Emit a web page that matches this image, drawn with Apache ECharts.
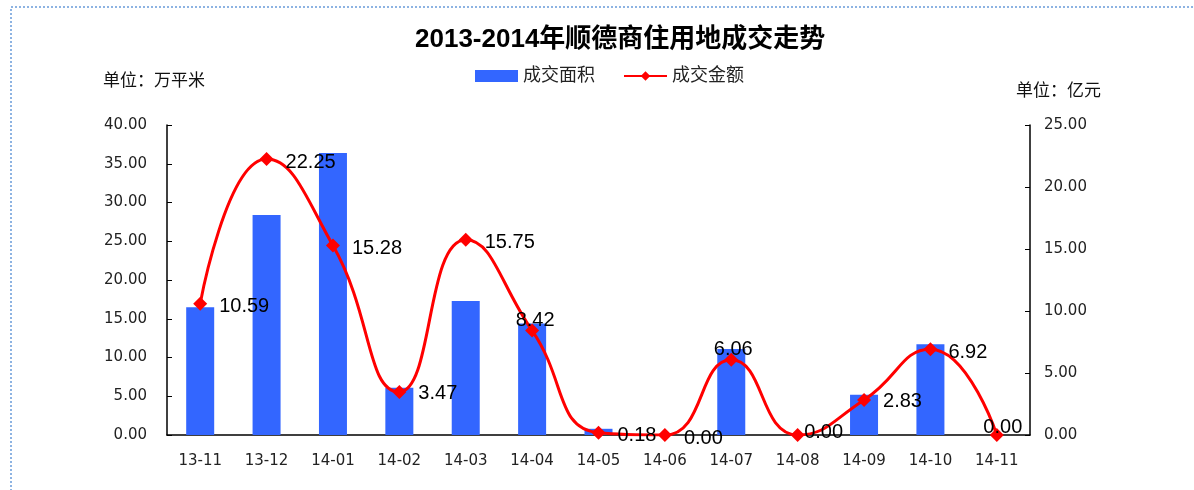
<!DOCTYPE html>
<html><head><meta charset="utf-8">
<script src="https://cdn.jsdelivr.net/npm/echarts@6/dist/echarts.min.js"></script>
<style>html,body{margin:0;padding:0;background:#fff;}#c{width:1194px;height:490px;}</style>
</head><body><div id="c"></div>
<script>
const categories = ['13-11','13-12','14-01','14-02','14-03','14-04','14-05','14-06','14-07','14-08','14-09','14-10','14-11'];
const areaValues = [16.5, 28.4, 36.4, 6.1, 17.3, 14.4, 0.8, 0, 11.1, 0, 5.2, 11.7, 0];
const amountValues = [10.59, 22.25, 15.28, 3.47, 15.75, 8.42, 0.18, 0.00, 6.06, 0.00, 2.83, 6.92, 0.00];
const leftTicks = ['0.00','5.00','10.00','15.00','20.00','25.00','30.00','35.00','40.00'];
const rightTicks = ['0.00','5.00','10.00','15.00','20.00','25.00'];
// label placement per point (style only)
const labelPlace = [
  {position: 'right', distance: 12, offset: [0, 3]},
  {position: 'right', distance: 12, offset: [0, 3]},
  {position: 'right', distance: 12, offset: [0, 3]},
  {position: 'right', distance: 12, offset: [0, 2]},
  {position: 'right', distance: 12, offset: [0, 3]},
  {position: 'inside', offset: [3, -10]},
  {position: 'right', distance: 12, offset: [0, 3]},
  {position: 'right', distance: 12, offset: [0, 3]},
  {position: 'inside', offset: [2, -10]},
  {position: 'inside', offset: [26, -3]},
  {position: 'right', distance: 12, offset: [0, 2]},
  {position: 'right', distance: 11, offset: [0, 3]},
  {position: 'inside', offset: [6, -8]}
];

const font = '"Liberation Sans", Arial, "Noto Sans CJK SC", sans-serif';
const tickFont = '"DejaVu Sans", sans-serif';
const chart = echarts.init(document.getElementById('c'));
chart.setOption({
  animation: false,
  title: {
    text: '2013-2014年顺德商住用地成交走势', left: 410, top: 22,
    textStyle: {fontSize: 26, fontWeight: 'bold', color: '#000', fontFamily: font}
  },
  legend: {
    top: 62, left: 470, itemGap: 28, itemWidth: 43, itemHeight: 12,
    textStyle: {fontSize: 18, color: '#222', fontFamily: font},
    data: [{name: '成交面积', icon: 'rect'}, {name: '成交金额'}]
  },
  graphic: [
    {type: 'rect', shape: {x: 11, y: 7, width: 1300, height: 600}, style: {fill: 'none', stroke: '#8db3e2', lineWidth: 2, lineDash: [2, 2]}},
    {type: 'text', left: 103, top: 73, style: {text: '单位：万平米', fill: '#111', font: '17px ' + font}},
    {type: 'text', left: 1016, top: 83, style: {text: '单位：亿元', fill: '#111', font: '17px ' + font}}
  ],
  grid: {left: 167, right: 164, top: 125, bottom: 55},
  xAxis: {
    type: 'category', data: categories,
    axisLine: {lineStyle: {color: '#000', width: 1.5}},
    axisTick: {inside: true, length: 6, lineStyle: {color: '#000'}},
    axisLabel: {fontSize: 15, color: '#222', margin: 19, fontFamily: tickFont}
  },
  yAxis: [
    {
      type: 'value', min: 0, max: 40, interval: 5, splitLine: {show: false},
      axisLine: {show: true, lineStyle: {color: '#000', width: 1.5}},
      axisTick: {show: true, inside: true, length: 5, lineStyle: {color: '#000'}},
      axisLabel: {fontSize: 15, color: '#222', margin: 20, fontFamily: tickFont,
        formatter: (v) => leftTicks[Math.round(v / 5)]}
    },
    {
      type: 'value', min: 0, max: 25, interval: 5, splitLine: {show: false},
      axisLine: {show: true, lineStyle: {color: '#000', width: 1.5}},
      axisTick: {show: true, inside: true, length: 5, lineStyle: {color: '#000'}},
      axisLabel: {fontSize: 15, color: '#222', margin: 14, fontFamily: tickFont,
        formatter: (v) => rightTicks[Math.round(v / 5)]}
    }
  ],
  series: [
    {
      name: '成交面积', type: 'bar', data: areaValues, barWidth: 28,
      itemStyle: {color: '#3366ff'}
    },
    {
      name: '成交金额', type: 'line', yAxisIndex: 1, smooth: 0.5,
      symbol: 'diamond', symbolSize: 14,
      lineStyle: {color: '#ff0000', width: 3}, itemStyle: {color: '#ff0000'},
      data: amountValues.map((v, i) => ({value: v, label: labelPlace[i]})),
      label: {show: true, fontSize: 20, color: '#000', fontFamily: font,
        formatter: (p) => amountValues[p.dataIndex].toFixed(2)}
    }
  ]
});
</script></body></html>
